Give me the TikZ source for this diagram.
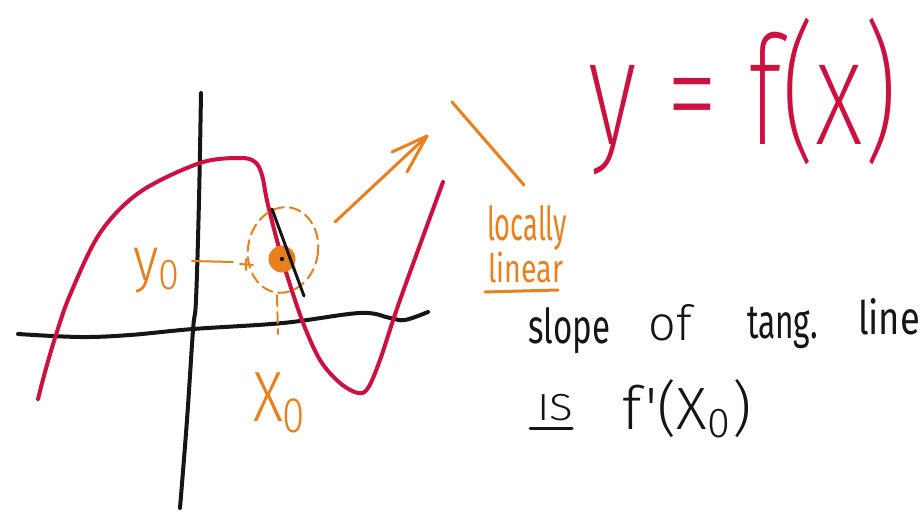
\documentclass[tikz,border=0pt]{standalone}
\usepackage{fontspec}
\setmainfont{Fira Sans}
\newfontfamily\handR{Fira Sans}
\newfontfamily\handL{Fira Sans Light}
\newfontfamily\handT{Fira Sans ExtraLight}
\usetikzlibrary{arrows.meta}
\definecolor{pred}{HTML}{CC1040}
\definecolor{porange}{HTML}{E8801E}
\definecolor{pblack}{HTML}{151515}
\newcommand{\fitbox}[3]{\resizebox*{#1}{#2}{#3}}
\newcommand{\wordbox}[3]{\resizebox{#1}{#2}{\vphantom{lf}#3}}
\tikzset{
  txt/.style={inner sep=0pt, outer sep=0pt, anchor=north west},
  wtxt/.style={inner sep=0pt, outer sep=0pt, anchor=base west, font=\handR},
  redline/.style={draw=pred, line width=4pt, line cap=round, line join=round},
  axisline/.style={draw=pblack, line width=4pt, line cap=round, line join=round},
  orangeline/.style={draw=porange, line width=3pt, line cap=round, line join=round},
  guide/.style={draw=porange, line width=2pt, dash pattern=on 11pt off 6pt, line cap=round},
  blackthin/.style={draw=pblack, line width=3pt, line cap=round}
}
\begin{document}
\begin{tikzpicture}[x=1pt,y=-1pt]
\useasboundingbox (0,0) rectangle (921,512);
% axes
\draw[axisline] plot[smooth, tension=0.6] coordinates {(18,334) (80,337) (130,335) (193,329) (283,323) (360,313) (390,318) (405,320) (428,312)};
\draw[axisline] plot[smooth, tension=0.6] coordinates {(201,93) (199,200) (196,300) (193,330) (187,420) (180,508)};
% function graph
\draw[redline] plot[smooth, tension=0.55] coordinates {(38,399) (45,372) (55,338) (70,295) (100,233) (140,192) (200,163) (240,158) (255,162) (262,175) (268,205) (283,262) (302,320) (320,360) (340,383) (358,393) (368,388) (380,360) (400,300) (443,182)};
% dashed neighbourhood
\draw[guide, rotate around={-10:(283,250)}] (283,250) ellipse [x radius=35pt, y radius=43pt];
% guides to axes
\draw[orangeline, line width=2pt] (192,261) -- (233,262);
\draw[orangeline, line width=2pt] (240,264) -- (253,265) (246,259) -- (246,270);
\draw[guide] (277,295) -- (278,334);
% point and tangent
\node[circle, fill=porange, minimum size=27pt, inner sep=0pt] (pt) at (282,259) {};
\fill[pblack] (pt.center) circle (2.2pt);
\draw[blackthin] (272,209) -- (304,296);
% arrow to zoomed view
\coordinate (a0) at (335,222);
\coordinate (a1) at (427,136);
\draw[orangeline] (a0) -- (a1);
\draw[orangeline] (392,152) -- (a1) -- (407,172);
\draw[orangeline] (452,102) -- (524,185);
% labels
\node[txt, text=pred] (eq) at (588,18) {\fitbox{309pt}{157pt}{\handT y = f(x)}};
\node[txt, text=porange, font=\handR] (loc) at (487,205) {\fitbox{80pt}{45pt}{locally}};
\node[txt, text=porange, font=\handR] (lin) at (488,252) {\fitbox{75pt}{31pt}{linear}};
\draw[orangeline] (485,292) -- (558,290);
\node[txt, text=porange, font=\handL] (ylab) at (133,248) {\fitbox{49pt}{45pt}{y\textsubscript{0}}};
\node[txt, text=porange, font=\handL] (xlab) at (253,373) {\fitbox{55pt}{60pt}{X\textsubscript{0}}};
\node[wtxt, text=pblack] (w1) at (528,343) {\wordbox{82pt}{36pt}{slope}};
\node[wtxt, text=pblack, anchor=base, font=\handL] (w2) at (670,340) {\wordbox{!}{36pt}{of}};
\node[wtxt, text=pblack] (w3) at (747,338) {\wordbox{71pt}{36pt}{tang.}};
\node[wtxt, text=pblack] (w4) at (858,334) {\wordbox{62pt}{36pt}{line}};
\node[wtxt, text=pblack, font=\handL] (w5) at (537,420) {\wordbox{36pt}{28pt}{IS}};
\draw[blackthin] (530,428) -- (572,428);
\node[wtxt, text=pblack, font=\handL] (w6) at (622,429) {\wordbox{130pt}{50pt}{f'(X\textsubscript{0})}};
\end{tikzpicture}
\end{document}
